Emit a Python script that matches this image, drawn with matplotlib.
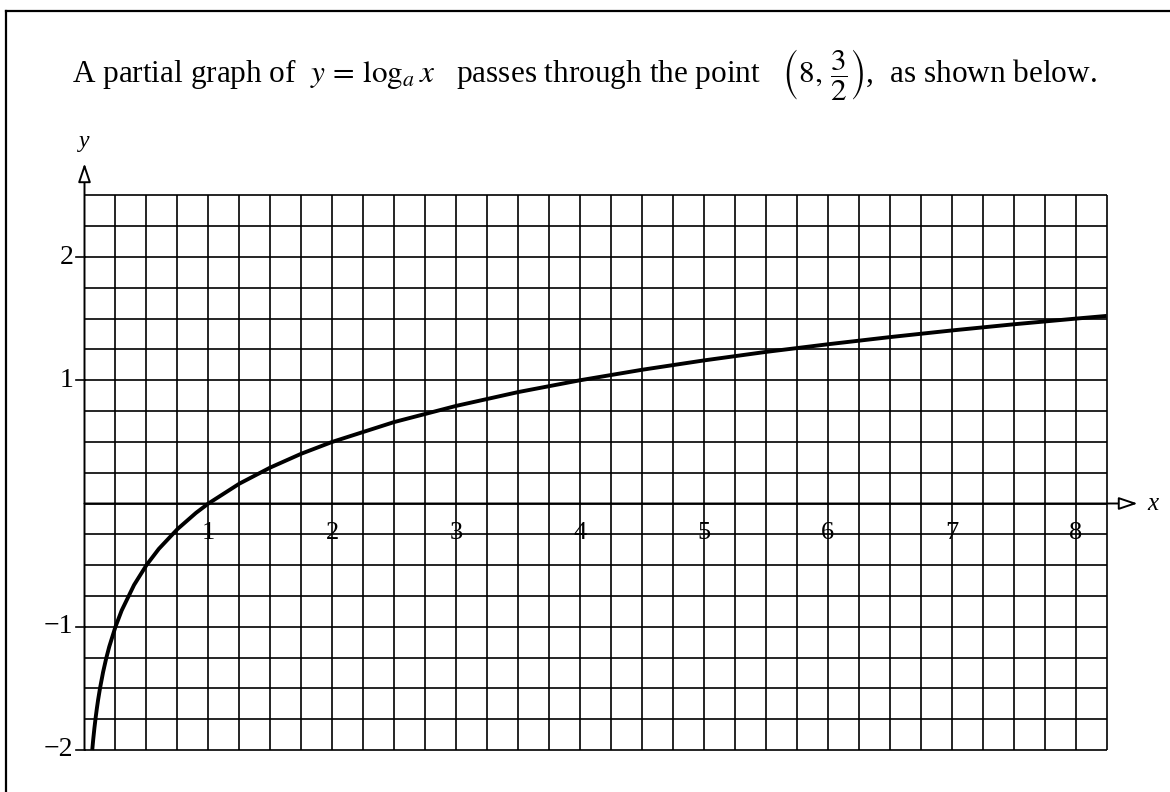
import numpy as np
import matplotlib.pyplot as plt

plt.rcParams['font.family'] = ['Liberation Serif', 'DejaVu Serif']
plt.rcParams['mathtext.fontset'] = 'stix'

# points read along the curve y = log_a x
curve_x = [0.0625, 0.07, 0.08, 0.09, 0.1, 0.11, 0.125, 0.15, 0.175, 0.2, 0.25,
           0.3, 0.4, 0.5, 0.6, 0.75, 0.9, 1.0, 1.25, 1.5, 1.75, 2.0, 2.5, 3.0,
           3.5, 4.0, 4.5, 5.0, 5.5, 6.0, 6.5, 7.0, 7.5, 8.0, 8.25]
curve_y = [-2.0, -1.918, -1.822, -1.737, -1.661, -1.592, -1.5, -1.368, -1.257,
           -1.161, -1.0, -0.868, -0.661, -0.5, -0.368, -0.208, -0.076, 0.0,
           0.161, 0.292, 0.404, 0.5, 0.661, 0.792, 0.904, 1.0, 1.085, 1.161,
           1.23, 1.292, 1.35, 1.404, 1.454, 1.5, 1.522]

x_ticks = [1, 2, 3, 4, 5, 6, 7, 8]
y_ticks = [-2, -1, 1, 2]

x_min, x_max = 0.0, 8.25
y_min, y_max = -2.0, 2.5
step = 0.25

fig = plt.figure(figsize=(11.7, 7.92), dpi=100)
ax = fig.add_axes([0, 0, 1, 1])
ax.set_xlim(-84.5 / 123.9, (1170 - 84.5) / 123.9)
ax.set_ylim(-(792 - 503.5) / 123.25, 503.5 / 123.25)
ax.axis('off')

# square grid
gx = np.arange(x_min + step, x_max + 1e-9, step)
gy = np.arange(y_min, y_max + 1e-9, step)
ax.vlines(gx, y_min, y_max, colors='black', lw=1.2)
ax.hlines(gy, x_min, x_max, colors='black', lw=1.2)

# axes with open arrow heads
arrow = dict(arrowstyle='-|>,head_length=0.95,head_width=0.32', fc='white',
             ec='black', lw=1.4, shrinkA=0, shrinkB=0, mutation_scale=12)
ax.annotate('', xy=(0, 2.76), xytext=(0, y_min), arrowprops=arrow)
ax.annotate('', xy=(8.5, 0), xytext=(x_min, 0), arrowprops=arrow)
ax.text(0, 2.85, 'y', fontsize=17, style='italic', ha='center', va='bottom')
ax.text(8.58, 0, 'x', fontsize=18, style='italic', ha='left', va='center')

# tick marks and labels
for v in y_ticks:
    ax.plot([-0.07, 0], [v, v], color='black', lw=1.2)
    ax.text(-0.09, v, '\u2212%d' % -v if v < 0 else '%d' % v, fontsize=20,
            ha='right', va='center')
for v in x_ticks:
    ax.text(v, -0.24, '%d' % v, fontsize=19, ha='center', va='center')

ax.plot(curve_x, curve_y, color='black', lw=2.8, solid_capstyle='butt')

# page frame
fig.add_artist(plt.Line2D([6 / 1170, 1], [1 - 11 / 792, 1 - 11 / 792],
                          color='black', lw=1.6))
fig.add_artist(plt.Line2D([6 / 1170, 6 / 1170], [0, 1 - 11 / 792],
                          color='black', lw=1.6))

fig.text(72 / 1170, 1 - 82 / 792,
         r'A partial graph of  $y\, =\, \log_{a}x$   passes through the point   '
         r'$\left(8,\,\dfrac{3}{2}\right)$,  as shown below.',
         fontsize=22.5, ha='left', va='baseline')

fig.savefig('out.png', dpi=100)
